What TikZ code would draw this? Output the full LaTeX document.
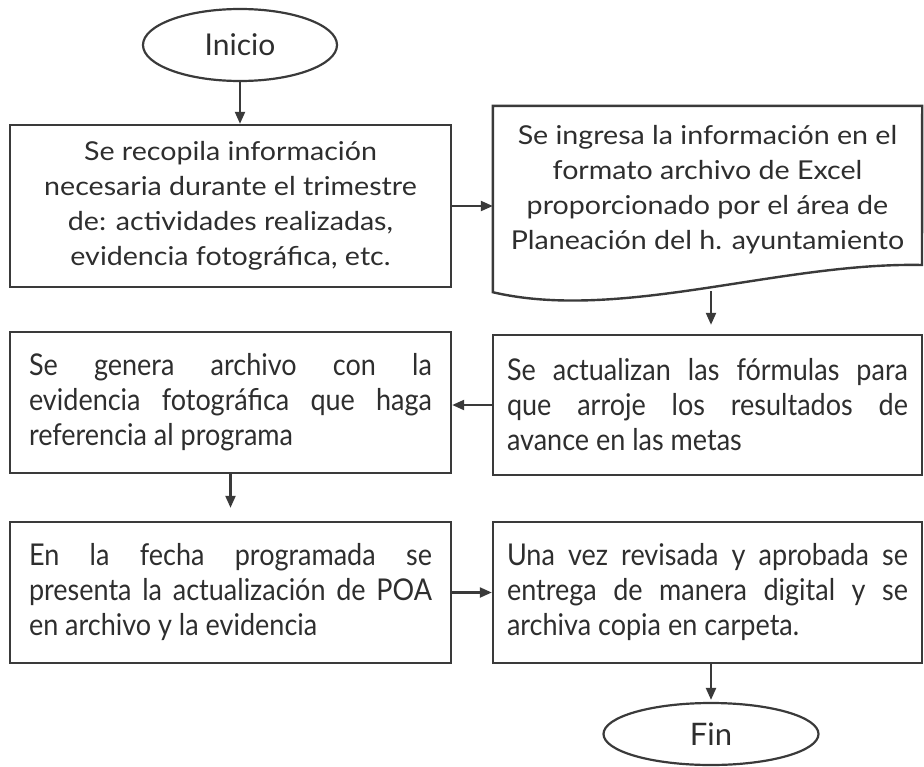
\documentclass[tikz,border=0pt]{standalone}
\usepackage{fontspec}
\setmainfont{Lato}
\newfontfamily\widefont[FakeStretch=1.1]{Lato}
\newfontfamily\condfont[FakeStretch=0.9]{Lato}
\usetikzlibrary{shapes.geometric,arrows.meta}
\definecolor{ln}{HTML}{3A3A3A}
\definecolor{tx}{HTML}{2E2E2E}
\begin{document}
\begin{tikzpicture}[x=1pt,y=-1pt,
  every node/.style={text=tx},
  box/.style={draw=ln,line width=2.4pt,rectangle,inner ysep=0pt},
  topbox/.style={box,inner xsep=0pt,minimum width=441pt,minimum height=162pt,align=center,font=\widefont\fontsize{26}{35}\selectfont},
  lowbox/.style={box,align=justify,font=\condfont\fontsize{30}{35}\selectfont},
  term/.style={ellipse,draw=ln,line width=2.2pt,inner sep=0pt},
  arr/.style={draw=ln,line width=2.2pt,-{Triangle[length=12pt,width=10pt]}}
]
\useasboundingbox (0,0) rectangle (924,766);

\node[term,minimum width=194pt,minimum height=72pt,font=\fontsize{30}{36}\selectfont] (ini) at (240,45) {Inicio};

\node[topbox] (b1) at (230.5,206) {Se recopila información\\necesaria durante el trimestre\\de: actividades realizadas,\\evidencia fotográfica, etc.};

\node[minimum width=429pt,minimum height=186pt,inner sep=0pt] (doc) at (707.5,199) {};
\node[align=center,inner sep=0pt,font=\widefont\fontsize{26}{35}\selectfont] (doctext) at (707.5,190) {Se ingresa la información en el\\formato archivo de Excel\\proporcionado por el área de\\Planeación del h. ayuntamiento};
\draw[ln,line width=2.4pt,line join=miter] (doc.south west) -- (doc.north west) -- (doc.north east) -- (922,265) .. controls (780,262) and (620,322) .. (doc.south west) -- cycle;

\node[lowbox,text width=403pt,inner xsep=19pt,minimum height=141pt] (gen) at (230.5,402.5) {Se genera archivo con la\linebreak evidencia fotográfica que haga\linebreak referencia al programa};
\node[lowbox,text width=401pt,inner xsep=14pt,minimum height=140pt] (act) at (707.5,405) {Se actualizan las fórmulas para\linebreak que arroje los resultados de\linebreak avance en las metas};
\node[lowbox,text width=403pt,inner xsep=19pt,minimum height=141pt] (fec) at (230.5,592.5) {En la fecha programada se\linebreak presenta la actualización de POA\linebreak en archivo y la evidencia};
\node[lowbox,text width=401pt,inner xsep=14pt,minimum height=141pt] (una) at (707.5,592.5) {Una vez revisada y aprobada se\linebreak entrega de manera digital y se\linebreak archiva copia en carpeta.};

\node[term,minimum width=215pt,minimum height=62pt,font=\fontsize{31}{36}\selectfont] (fin) at (711,734) {Fin};

\coordinate (docb) at (711,291);
\draw[arr] (ini.south) -- (ini.south |- b1.north);
\draw[arr] (b1.east) -- (b1.east -| doc.west);
\draw[arr,shorten >=9pt] (docb) -- (docb |- act.north);
\draw[arr] (act.west) -- (act.west -| gen.east);
\draw[arr,shorten >=13pt] (gen.south) -- (gen.south |- fec.north);
\draw[arr] (fec.east) -- (fec.east -| una.west);
\draw[arr,shorten >=2pt] (fin.north |- una.south) -- (fin.north);
\end{tikzpicture}
\end{document}
